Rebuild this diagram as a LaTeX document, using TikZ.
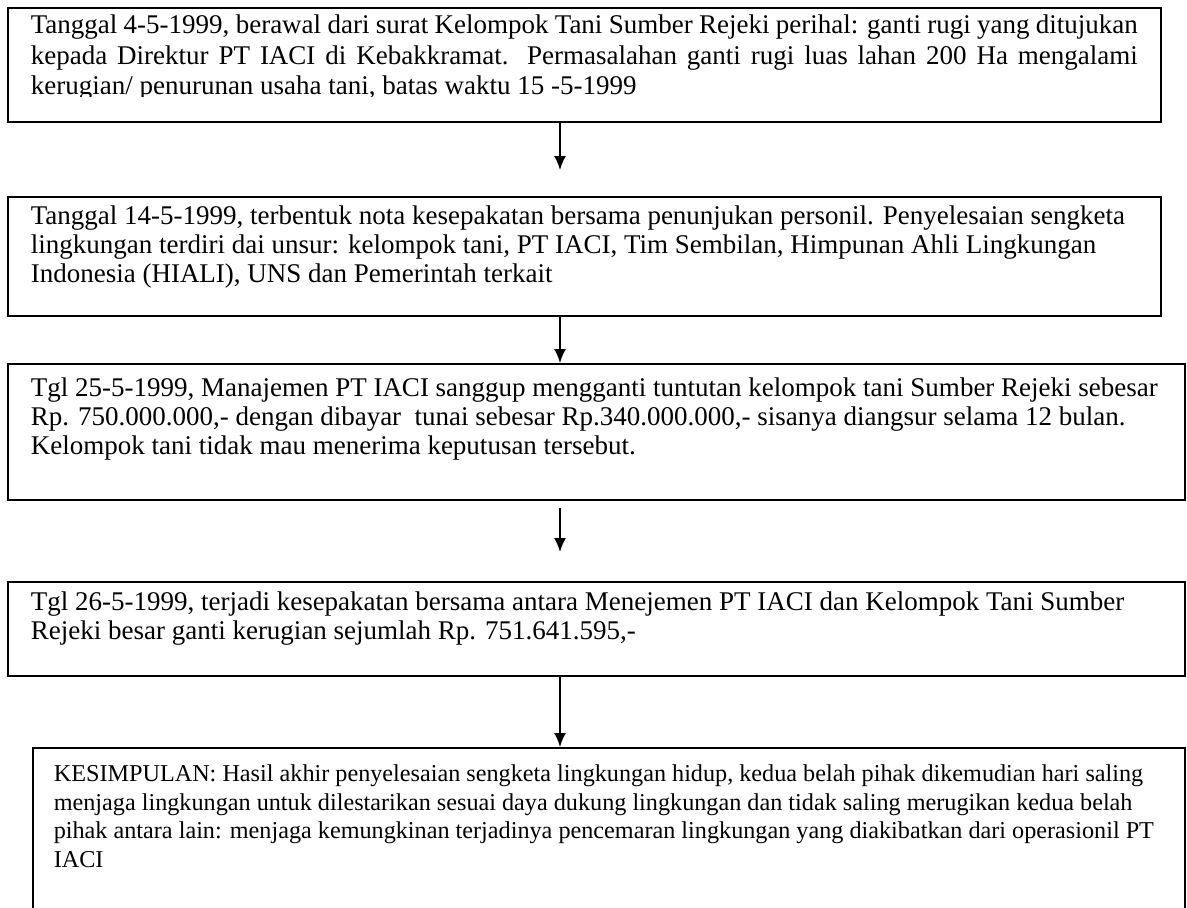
\documentclass[tikz,border=0pt]{standalone}
\usepackage{fontspec}
\setmainfont{Liberation Serif}
\usetikzlibrary{arrows.meta}

\newcommand{\steptext}[4][21pt]{\parbox[t][#3][t]{#2}{\raggedright\rule{0pt}{#1}#4}}
\newcommand{\jline}[1]{\makebox[\linewidth][s]{#1}}

\begin{document}
\begin{tikzpicture}[x=1pt,y=-1pt,>={Latex[length=14pt,width=12pt]},
  stepbox/.style={draw,line width=1.6pt,anchor=north west,inner xsep=23pt,
    inner ysep=5pt,font=\fontsize{27}{29}\selectfont},
  endbox/.style={stepbox,inner xsep=21pt,font=\fontsize{24.2}{28.5}\selectfont},
  flow/.style={->,line width=1.8pt}]
  \clip (0,0) rectangle (1187,908);
  \coordinate (ax) at (560,0);

  % first box, last line cut off at the bottom
  \begin{scope}[even odd rule]
    \clip (0,0) rectangle (1187,908) (24,96) rectangle (1150,116);
    \node[stepbox,font=\fontsize{27}{30.5}\selectfont] (b1) at (7,7) {\steptext{1107pt}{104pt}{%
      \jline{Tanggal 4-5-1999, berawal dari surat Kelompok Tani Sumber Rejeki perihal: ganti rugi yang ditujukan}\\
      \jline{kepada Direktur PT IACI di Kebakkramat. Permasalahan ganti rugi luas lahan 200 Ha mengalami}\\
      \mbox{kerugian/ penurunan usaha tani, batas waktu 15 -5-1999}}};
  \end{scope}

  \node[stepbox] (b2) at (7,196) {\steptext[23pt]{1107pt}{109pt}{%
    \mbox{Tanggal 14-5-1999, terbentuk nota kesepakatan bersama penunjukan personil. Penyelesaian sengketa}\\
    \mbox{lingkungan terdiri dai unsur: kelompok tani, PT IACI, Tim Sembilan, Himpunan Ahli Lingkungan}\\
    \mbox{Indonesia (HIALI), UNS dan Pemerintah terkait}}};

  \node[stepbox] (b3) at (7,363) {\steptext[28pt]{1131pt}{126pt}{%
    \mbox{Tgl 25-5-1999, Manajemen PT IACI sanggup mengganti tuntutan kelompok tani Sumber Rejeki sebesar}\\
    \mbox{Rp. 750.000.000,- dengan dibayar\ \ tunai sebesar Rp.340.000.000,- sisanya diangsur selama 12 bulan.}\\
    \mbox{Kelompok tani tidak mau menerima keputusan tersebut.}}};

  \node[stepbox] (b4) at (7,581) {\steptext[24pt]{1131pt}{84pt}{%
    \mbox{Tgl 26-5-1999, terjadi kesepakatan bersama antara Menejemen PT IACI dan Kelompok Tani Sumber}\\
    \mbox{Rejeki besar ganti kerugian sejumlah Rp. 751.641.595,-}}};

  \node[endbox] (b5) at (32,747) {\steptext[29pt]{1110pt}{190pt}{%
    \mbox{KESIMPULAN: Hasil akhir penyelesaian sengketa lingkungan hidup, kedua belah pihak dikemudian hari saling}\\
    \mbox{menjaga lingkungan untuk dilestarikan sesuai daya dukung lingkungan dan tidak saling merugikan kedua belah}\\
    \mbox{pihak antara lain: menjaga kemungkinan terjadinya pencemaran lingkungan yang diakibatkan dari operasionil PT}\\
    \mbox{IACI}}};

  \draw[flow,shorten >=26pt] (b1.south -| ax) -- (b2.north -| ax);
  \draw[flow] (b2.south -| ax) -- (b3.north -| ax);
  \draw[flow,shorten <=7pt,shorten >=29pt] (b3.south -| ax) -- (b4.north -| ax);
  \draw[flow] (b4.south -| ax) -- (b5.north -| ax);
\end{tikzpicture}
\end{document}
